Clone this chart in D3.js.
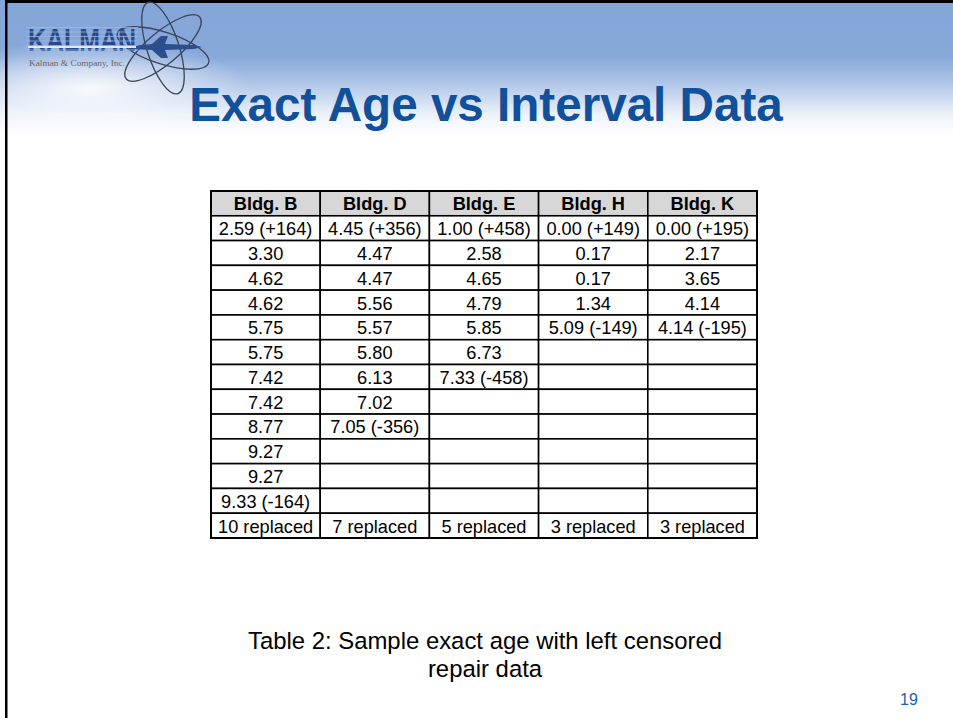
<!DOCTYPE html>
<html>
<head>
<meta charset="utf-8">
<script src="https://cdn.jsdelivr.net/npm/d3@7"></script>
<style>
  body { margin: 0; background: #fff; }
  svg { display: block; }
</style>
</head>
<body>
<div id="slide"></div>
<script>
// table data, one array per building
var buildings = ["Bldg. B", "Bldg. D", "Bldg. E", "Bldg. H", "Bldg. K"];
var bldgB = ["2.59 (+164)", "3.30", "4.62", "4.62", "5.75", "5.75", "7.42", "7.42", "8.77", "9.27", "9.27", "9.33 (-164)"];
var bldgD = ["4.45 (+356)", "4.47", "4.47", "5.56", "5.57", "5.80", "6.13", "7.02", "7.05 (-356)"];
var bldgE = ["1.00 (+458)", "2.58", "4.65", "4.79", "5.85", "6.73", "7.33 (-458)"];
var bldgH = ["0.00 (+149)", "0.17", "0.17", "1.34", "5.09 (-149)"];
var bldgK = ["0.00 (+195)", "2.17", "3.65", "4.14", "4.14 (-195)"];
var replaced = ["10 replaced", "7 replaced", "5 replaced", "3 replaced", "3 replaced"];
var title = "Exact Age vs Interval Data";
var caption = ["Table 2: Sample exact age with left censored", "repair data"];
var pageNum = "19";

var W = 953, H = 718;
var nData = 12;

var svg = d3.select("#slide").append("svg")
    .attr("width", W)
    .attr("height", H);

var defs = svg.append("defs");
var grad = defs.append("linearGradient")
    .attr("id", "hdr").attr("x1", 0).attr("y1", 0).attr("x2", 0).attr("y2", 1);
grad.append("stop").attr("offset", "0%").attr("stop-color", "#84a5d7");
grad.append("stop").attr("offset", "42%").attr("stop-color", "#87a8d9");
grad.append("stop").attr("offset", "62%").attr("stop-color", "#b0c6e7");
grad.append("stop").attr("offset", "85%").attr("stop-color", "#edf2fa");
grad.append("stop").attr("offset", "100%").attr("stop-color", "#ffffff");

var glow = defs.append("radialGradient").attr("id", "glow")
    .attr("cx", 0.5).attr("cy", 0.5).attr("r", 0.5);
glow.append("stop").attr("offset", "0%").attr("stop-color", "#ffffff").attr("stop-opacity", 0.9);
glow.append("stop").attr("offset", "100%").attr("stop-color", "#ffffff").attr("stop-opacity", 0);

// header band
svg.append("rect").attr("x", 0).attr("y", 0).attr("width", W).attr("height", 135)
    .attr("fill", "url(#hdr)");
svg.append("ellipse").attr("cx", 90).attr("cy", 88).attr("rx", 160).attr("ry", 48)
    .attr("fill", "url(#glow)");

// slide frame
svg.append("rect").attr("x", 5).attr("y", 0).attr("width", W).attr("height", 3).attr("fill", "#000");
svg.append("rect").attr("x", 5).attr("y", 0).attr("width", 2.5).attr("height", H).attr("fill", "#000");

// logo
var logo = svg.append("g");
[-40, 18, 72].forEach(function(a) {
  logo.append("ellipse")
      .attr("cx", 163).attr("cy", 48).attr("rx", 48).attr("ry", 16)
      .attr("transform", "rotate(" + a + ",163,48)")
      .attr("fill", "none").attr("stroke", "#3b4458").attr("stroke-width", 1.3);
});
logo.append("path")
    .attr("d", "M130,46 L152,44 L161,36 L168,36 L165,44 L194,45 L202,47 L194,49 L165,50 L168,58 L161,58 L152,50 L130,49 Z")
    .attr("fill", "#2c4e8e");
logo.append("text")
    .attr("x", 28).attr("y", 51)
    .attr("font-family", "Liberation Sans, Arial, sans-serif")
    .attr("font-weight", "bold")
    .attr("font-size", 32).attr("textLength", 108).attr("lengthAdjust", "spacingAndGlyphs")
    .attr("fill", "#29498a")
    .text("KALMAN");
d3.range(6).forEach(function(i) {
  logo.append("rect").attr("x", 26).attr("y", 27 + i * 4.5).attr("width", 112).attr("height", 1)
      .attr("fill", "#9db9e0").attr("opacity", 0.75);
});
logo.append("rect").attr("x", 28).attr("y", 46).attr("width", 108).attr("height", 2)
    .attr("fill", "#dfe8f4");
logo.append("text")
    .attr("x", 29).attr("y", 66)
    .attr("font-family", "Liberation Serif, Times New Roman, serif")
    .attr("font-size", 9).attr("textLength", 96).attr("lengthAdjust", "spacingAndGlyphs")
    .attr("fill", "#666")
    .text("Kalman & Company, Inc.");

// title
svg.append("text")
    .attr("x", 486).attr("y", 121)
    .attr("text-anchor", "middle")
    .attr("font-family", "Liberation Sans, Arial, sans-serif")
    .attr("font-weight", "bold").attr("font-size", 47.6)
    .attr("fill", "#11509a")
    .text(title);

// table
var columns = [bldgB, bldgD, bldgE, bldgH, bldgK];
var rowIds = d3.range(nData + 2);

var x = d3.scaleBand().domain(buildings).range([211, 757]);
var y = d3.scaleBand().domain(rowIds).range([191, 538]);

var cells = [];
buildings.forEach(function(b, ci) {
  cells.push({col: b, row: 0, text: b, head: true});
  for (var r = 0; r < nData; r++) {
    cells.push({col: b, row: r + 1, text: columns[ci][r] || "", head: false});
  }
  cells.push({col: b, row: nData + 1, text: replaced[ci], head: false});
});

var table = svg.append("g");
table.selectAll("rect.cell").data(cells)
  .join("rect")
    .attr("class", "cell")
    .attr("x", function(d) { return x(d.col); })
    .attr("y", function(d) { return y(d.row); })
    .attr("width", x.bandwidth())
    .attr("height", y.bandwidth())
    .attr("fill", function(d) { return d.head ? "#d7d7d7" : "#fff"; })
    .attr("stroke", "#000")
    .attr("stroke-width", 1.6);

table.append("rect")
    .attr("x", 211).attr("y", 191).attr("width", 546).attr("height", 347)
    .attr("fill", "none").attr("stroke", "#000").attr("stroke-width", 2);

table.selectAll("text.cell").data(cells)
  .join("text")
    .attr("class", "cell")
    .attr("x", function(d) { return x(d.col) + x.bandwidth() / 2; })
    .attr("y", function(d) { return y(d.row) + y.bandwidth() / 2 + 7; })
    .attr("text-anchor", "middle")
    .attr("font-family", "Liberation Sans, Arial, sans-serif")
    .attr("font-size", 18.2)
    .attr("font-weight", function(d) { return d.head ? "bold" : "normal"; })
    .attr("fill", "#000")
    .text(function(d) { return d.text; });

// caption
svg.selectAll("text.caption").data(caption)
  .join("text")
    .attr("class", "caption")
    .attr("x", 485)
    .attr("y", function(d, i) { return 649 + i * 28; })
    .attr("text-anchor", "middle")
    .attr("font-family", "Liberation Sans, Arial, sans-serif")
    .attr("font-size", 23.9)
    .attr("fill", "#000")
    .text(function(d) { return d; });

// page number
svg.append("text")
    .attr("x", 909).attr("y", 705)
    .attr("text-anchor", "middle")
    .attr("font-family", "Liberation Sans, Arial, sans-serif")
    .attr("font-size", 16)
    .attr("fill", "#1f5ea8")
    .text(pageNum);
</script>
</body>
</html>
